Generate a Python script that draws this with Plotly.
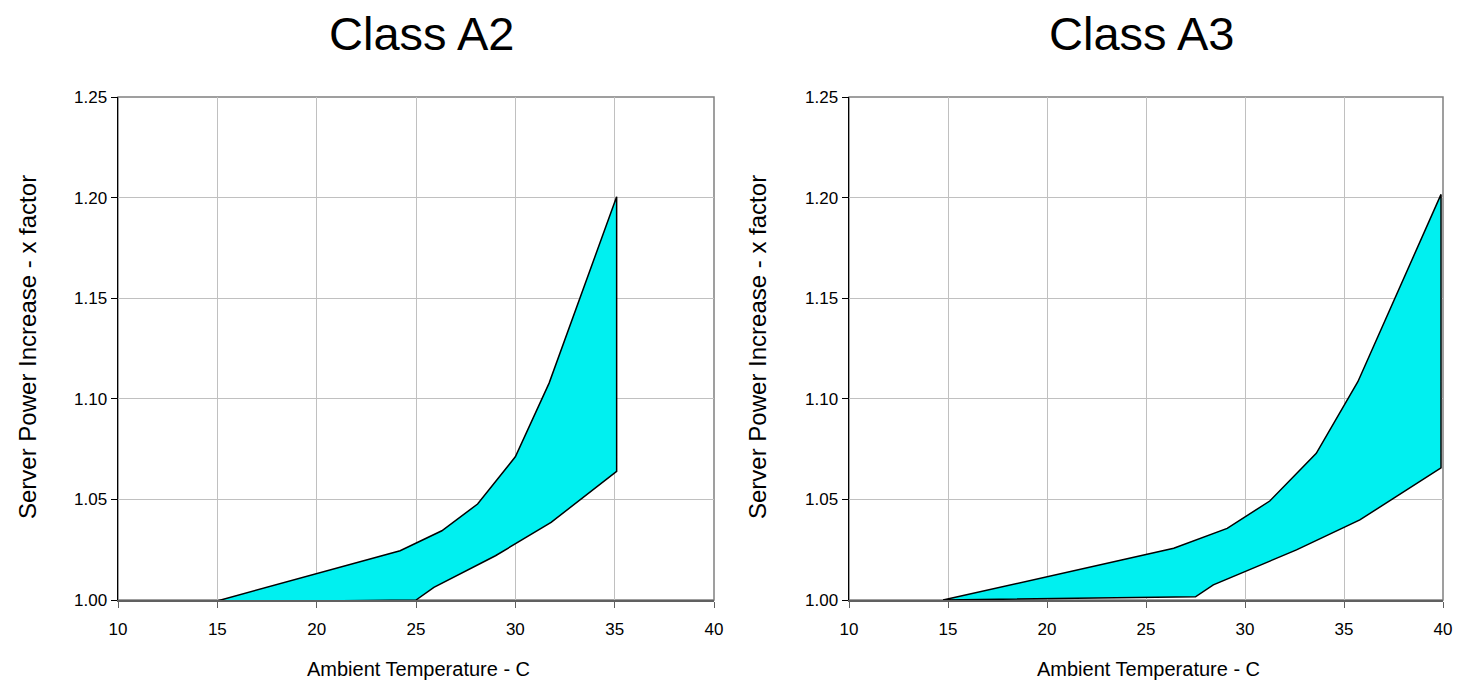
import plotly.graph_objects as go

# ---- data ----
a2_upper_x = [14.8, 24.2, 26.3, 28.1, 30.0, 31.7, 35.1]
a2_upper_y = [0.999, 1.0245, 1.0344, 1.0477, 1.0712, 1.1078, 1.2004]
a2_lower_x = [14.8, 20.0, 25.0, 25.9, 29.0, 31.8, 35.1]
a2_lower_y = [0.999, 0.9995, 1.000, 1.0063, 1.022, 1.0386, 1.0639]

a3_upper_x = [14.75, 26.4, 29.1, 31.25, 33.6, 35.7, 39.9]
a3_upper_y = [1.0, 1.0257, 1.0356, 1.0492, 1.0729, 1.1085, 1.2016]
a3_lower_x = [14.75, 27.5, 28.4, 32.6, 35.8, 39.9]
a3_lower_y = [1.0, 1.0016, 1.0075, 1.0249, 1.0398, 1.0657]

titles = ["Class A2", "Class A3"]
x_title = "Ambient Temperature - C"
y_title = "Server Power Increase - x factor"
x_ticks = [10, 15, 20, 25, 30, 35, 40]
y_ticks = [1.00, 1.05, 1.10, 1.15, 1.20, 1.25]

FONT = "Liberation Sans, Arial, sans-serif"
FILL = "#00F0F0"
GRID = "#C0C0C0"

fig = go.Figure()


def band(ux, uy, lx, ly, xa, ya):
    xs = list(ux) + list(reversed(lx))
    ys = list(uy) + list(reversed(ly))
    xs.append(xs[0])
    ys.append(ys[0])
    fig.add_trace(go.Scatter(
        x=xs, y=ys, mode="lines", fill="toself", fillcolor=FILL,
        line=dict(color="black", width=1.5), xaxis=xa, yaxis=ya,
        showlegend=False, hoverinfo="skip"))


band(a2_upper_x, a2_upper_y, a2_lower_x, a2_lower_y, "x", "y")
band(a3_upper_x, a3_upper_y, a3_lower_x, a3_lower_y, "x2", "y2")

# body margin is removed by post_script, so layout is in window pixels
W, H = 1458, 684


def fx(px):
    return px / W


def fy(py):
    return (H - py) / H


doms_x = [[fx(118), fx(714)], [fx(849), fx(1443)]]
dom_y = [fy(600), fy(97)]

common_x = dict(range=[10, 40], tickvals=x_ticks, ticktext=[str(v) for v in x_ticks],
                showgrid=True, gridcolor=GRID, gridwidth=1, zeroline=False,
                showline=True, linecolor="#606060", linewidth=1.5,
                ticks="outside", ticklen=6, tickcolor="#606060", tickwidth=1,
                ticklabelstandoff=7, automargin=False,
                tickfont=dict(family=FONT, size=17, color="black"), fixedrange=True)
common_y = dict(range=[1.0, 1.25], tickvals=y_ticks, ticktext=[f"{v:.2f}" for v in y_ticks],
                showgrid=True, gridcolor=GRID, gridwidth=1, zeroline=False,
                showline=True, linecolor="black", linewidth=1.5,
                ticks="outside", ticklen=6, tickcolor="black", tickwidth=1,
                automargin=False,
                tickfont=dict(family=FONT, size=17, color="black"), fixedrange=True)

fig.update_layout(
    width=W, height=H,
    margin=dict(l=0, r=0, t=0, b=0, autoexpand=False),
    paper_bgcolor="white", plot_bgcolor="white",
    xaxis=dict(domain=doms_x[0], anchor="y", **common_x),
    yaxis=dict(domain=dom_y, anchor="x", **common_y),
    xaxis2=dict(domain=doms_x[1], anchor="y2", **common_x),
    yaxis2=dict(domain=dom_y, anchor="x2", **common_y),
)

shapes = []
for xr, yr in [("x domain", "y domain"), ("x2 domain", "y2 domain")]:
    shapes.append(dict(type="rect", xref=xr, yref=yr, x0=0, x1=1, y0=0, y1=1,
                       line=dict(color="#808080", width=1.5), layer="below"))
fig.update_layout(shapes=shapes)

annotations = []
title_cx = [422, 1141]
xt_cx = [418, 1148]
yt_cx = [27, 757]
for i in range(2):
    annotations.append(dict(text=titles[i], xref="paper", yref="paper",
                            x=fx(title_cx[i]), y=fy(33), xanchor="center", yanchor="middle",
                            showarrow=False, font=dict(family=FONT, size=47, color="black")))
    annotations.append(dict(text=x_title, xref="paper", yref="paper",
                            x=fx(xt_cx[i]), y=fy(669), xanchor="center", yanchor="middle",
                            showarrow=False, borderpad=0,
                            font=dict(family=FONT, size=20, color="black")))
    annotations.append(dict(text=y_title, xref="paper", yref="paper", textangle=-90,
                            x=fx(yt_cx[i]), y=fy(347), xanchor="center", yanchor="middle",
                            showarrow=False, font=dict(family=FONT, size=24, color="black")))
fig.update_layout(annotations=annotations)

fig.write_html("out.html",
               config={"displayModeBar": False, "staticPlot": True},
               post_script="document.body.style.margin='0';document.body.style.overflow='hidden';")
